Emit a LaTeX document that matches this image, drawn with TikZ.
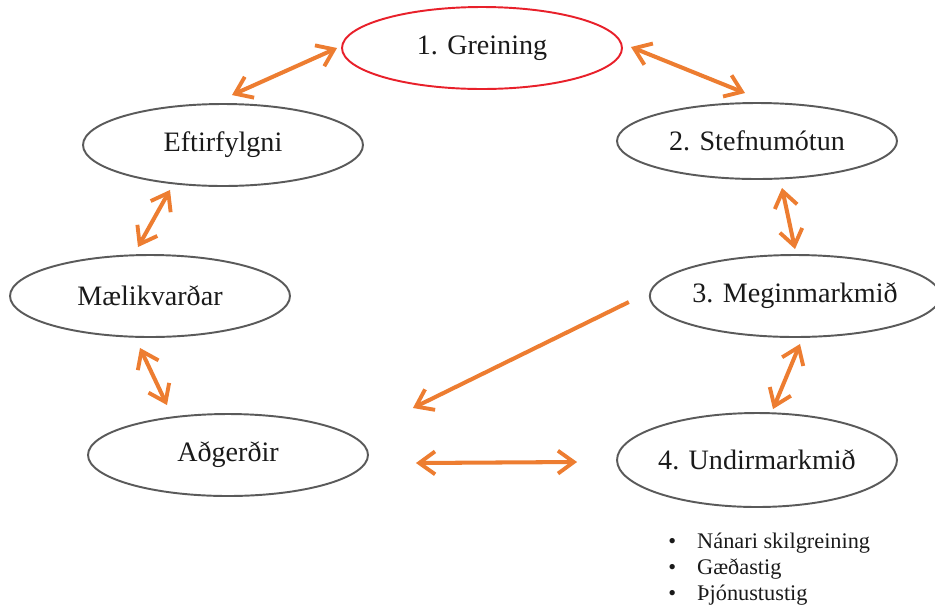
\documentclass[tikz,border=0pt]{standalone}
\usepackage{fontspec}
\setmainfont{Liberation Serif}
\usetikzlibrary{shapes.geometric,arrows.meta,calc}
\definecolor{flow}{HTML}{ED7D31}
\definecolor{rim}{HTML}{5A5A5A}
\definecolor{hot}{HTML}{E8202A}
\definecolor{ink}{HTML}{1A1A1A}
\tikzset{
  stage/.style={ellipse, draw=rim, line width=1.1pt, minimum width=5.6cm,
    minimum height=1.64cm, inner sep=0pt, text=ink, font=\fontsize{16}{19}\selectfont},
  startstage/.style={stage, draw=hot},
  barbtip/.tip={Straight Barb[length=9pt,width=13pt,line width=2.2pt]},
  link/.style={draw=flow, line width=2.3pt, barbtip-barbtip},
  onelink/.style={draw=flow, line width=2.3pt, -barbtip},
  note/.style={anchor=base west, inner sep=0pt, text=ink, font=\fontsize{12.7}{14.7}\selectfont}
}
\begin{document}
\begin{tikzpicture}[x=0.02cm, y=-0.02cm]
\useasboundingbox (0,0) rectangle (935,606);

% stages of the cycle
\node[startstage] (g) at (482,48) {1. Greining};
\node[stage, minimum height=1.52cm] (s) at (757,141) {2. Stefnumótun};
\node[stage] (m) at (795,296) {3. Meginmarkmið};
\node[stage, minimum height=1.88cm] (u) at (757,460) {4. Undirmarkmið};
\node[stage] (e) at (223,145) {Eftirfylgni};
\node[stage] (k) at (150,296) {Mælikvarðar};
\node[stage] (a) at (228,455) {Aðgerðir};

% links between the stages
\draw[link] ($(e.north)+(9,-8)$) -- ($(g.west)+(-4,0)$);
\draw[link] ($(g.east)+(8,-1)$) -- ($(s.north)+(-12,-9)$);
\draw[link] ($(s.south)+(25,8)$) -- ($(m.north)+(0,-5)$);
\draw[link] ($(m.south)+(5,6)$) -- ($(u.north)+(16,-3)$);
\draw[onelink] ($(m.west)+(-20,6)$) -- ($(a.east)+(44,-47)$);
\draw[link] ($(a.east)+(47,8)$) -- ($(u.west)+(-39,2)$);
\draw[link] ($(e.south)+(-53,3)$) -- ($(k.north)+(-12,-7)$);
\draw[link] ($(k.south)+(-10,10)$) -- ($(a.north)+(-61,-8)$);

% details of the fourth stage
\node[note] (n1) at (668,548) {\textbullet\hspace{12pt}Nánari skilgreining};
\node[note] (n2) at (668,574) {\textbullet\hspace{12pt}Gæðastig};
\node[note] (n3) at (668,600) {\textbullet\hspace{12pt}Þjónustustig};
\end{tikzpicture}
\end{document}
